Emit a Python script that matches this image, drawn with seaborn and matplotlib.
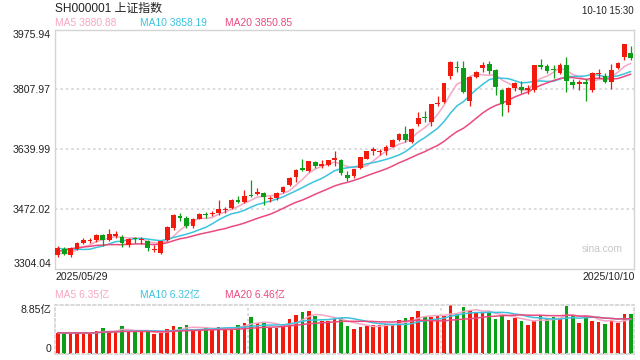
import numpy as np
import pandas as pd
import matplotlib
matplotlib.use("Agg")
from matplotlib import pyplot as plt
import seaborn as sns

# closes before the first visible day (needed for the price MAs)
prior_close = [3286.65, 3279.03, 3316.11, 3342.67, 3352.00, 3342.00, 3369.24, 3374.87,
               3403.95, 3380.82, 3367.46, 3367.58, 3380.48, 3387.57, 3380.19, 3348.37,
               3346.84, 3340.69, 3339.93]

open_ = [3342, 3360, 3343, 3360, 3377, 3382, 3385, 3400, 3385, 3398,
         3395, 3370, 3390, 3385, 3383, 3357, 3350, 3385, 3418, 3452,
         3447, 3424, 3445, 3458, 3457, 3460, 3470, 3476, 3497, 3491,
         3512, 3515, 3517, 3500, 3503, 3520, 3540, 3563, 3587, 3578,
         3603, 3594, 3597, 3609, 3610, 3567, 3566, 3588, 3614, 3634,
         3632, 3634, 3647, 3665, 3684, 3660, 3712, 3731, 3716, 3767,
         3772, 3846, 3872, 3868, 3775, 3843, 3868, 3878, 3862, 3806,
         3763, 3811, 3816, 3806, 3806, 3875, 3874, 3865, 3855, 3876,
         3830, 3822, 3830, 3806, 3850, 3845, 3828, 3868, 3898, 3911]
high = [3368, 3365, 3365, 3380, 3392, 3391, 3403, 3403, 3415, 3410,
        3400, 3392, 3394, 3395, 3386, 3372, 3383, 3424, 3459, 3460,
        3452, 3448, 3460, 3463, 3466, 3497, 3478, 3500, 3510, 3526,
        3554, 3530, 3520, 3510, 3520, 3536, 3562, 3584, 3613, 3606,
        3608, 3610, 3610, 3634, 3612, 3580, 3584, 3618, 3636, 3645,
        3640, 3651, 3668, 3686, 3704, 3699, 3745, 3746, 3767, 3788,
        3826, 3887, 3888, 3887, 3845, 3860, 3884, 3888, 3866, 3810,
        3814, 3828, 3832, 3820, 3876, 3892, 3880, 3877, 3882, 3899,
        3836, 3835, 3836, 3856, 3866, 3855, 3880, 3886, 3936, 3930]
low = [3337, 3343, 3338, 3357, 3374, 3378, 3381, 3368, 3382, 3392,
       3366, 3366, 3376, 3373, 3354, 3352, 3346, 3383, 3414, 3440,
       3420, 3420, 3443, 3448, 3452, 3456, 3462, 3473, 3488, 3489,
       3506, 3512, 3484, 3492, 3498, 3518, 3538, 3547, 3578, 3576,
       3588, 3588, 3593, 3594, 3568, 3550, 3558, 3585, 3612, 3624,
       3625, 3625, 3645, 3662, 3660, 3657, 3706, 3716, 3706, 3760,
       3769, 3838, 3858, 3797, 3760, 3840, 3858, 3850, 3793, 3733,
       3745, 3803, 3797, 3795, 3800, 3866, 3855, 3840, 3850, 3801,
       3812, 3806, 3775, 3802, 3840, 3826, 3810, 3864, 3890, 3889]
close = [3363.45, 3347.49, 3361.98, 3376.20, 3384.10, 3385.36, 3399.77, 3384.82, 3402.32, 3402.66,
         3377.00, 3388.73, 3387.40, 3388.81, 3362.11, 3359.90, 3381.58, 3420.57, 3455.97, 3448.45,
         3424.23, 3444.43, 3457.75, 3454.79, 3461.15, 3472.32, 3473.13, 3497.48, 3493.05, 3509.68,
         3510.18, 3519.65, 3505.00, 3503.78, 3516.83, 3534.48, 3559.79, 3581.86, 3582.30, 3605.73,
         3593.66, 3597.94, 3609.71, 3615.72, 3573.21, 3559.95, 3583.31, 3617.60, 3633.99, 3639.67,
         3635.13, 3647.55, 3665.92, 3683.46, 3666.44, 3696.77, 3728.03, 3727.29, 3766.21, 3771.10,
         3825.76, 3883.56, 3868.38, 3800.35, 3843.60, 3857.93, 3875.53, 3858.13, 3813.56, 3765.88,
         3812.51, 3826.84, 3807.29, 3812.22, 3875.31, 3870.60, 3860.50, 3861.87, 3876.34, 3831.66,
         3820.09, 3828.58, 3821.83, 3853.64, 3853.30, 3828.11, 3862.53, 3882.78, 3933.97, 3897.03]
# volume, in 亿
volume = [3.85, 3.73, 3.85, 3.85, 3.73, 3.73, 4.15, 4.76, 4.15, 4.03,
          5.06, 4.03, 4.03, 4.03, 4.03, 3.61, 3.85, 4.52, 5.06, 4.88,
          5.24, 4.52, 4.33, 4.82, 4.33, 4.82, 4.64, 4.82, 5.24, 5.66,
          6.68, 5.54, 5.66, 4.76, 4.76, 4.94, 6.38, 7.04, 7.65, 7.77,
          6.86, 5.96, 5.96, 6.32, 6.44, 5.06, 4.52, 4.88, 5.12, 5.24,
          5.24, 5.36, 5.24, 6.14, 6.50, 6.68, 7.77, 6.74, 6.68, 6.86,
          6.86, 8.85, 7.28, 8.49, 7.89, 7.46, 7.53, 7.53, 6.32, 7.04,
          6.14, 6.50, 5.96, 5.24, 5.96, 7.04, 6.26, 6.68, 6.38, 8.67,
          6.86, 5.60, 7.04, 5.96, 5.78, 5.42, 5.96, 5.60, 7.22, 7.22]

price_ticks = [3304.04, 3472.02, 3639.99, 3807.97, 3975.94]
title = "SH000001 上证指数"
stamp = "10-10 15:30"
first_date, last_date = "2025/05/29", "2025/10/10"
ma_price_text = ["MA5 3880.88", "MA10 3858.19", "MA20 3850.85"]
ma_vol_text = ["MA5 6.35亿", "MA10 6.32亿", "MA20 6.46亿"]

RED, GREEN = "#f21a0c", "#0b9e16"
MA_COLORS = ["#f7a6c4", "#3cc3df", "#ea4a7e"]
GRID = "#d9d9d9"

df = pd.DataFrame({"open": open_, "high": high, "low": low, "close": close, "volume": volume})
df["idx"] = np.arange(len(df))
all_close = pd.Series(prior_close + close)
for n in (5, 10, 20):
    df[f"ma{n}"] = all_close.rolling(n).mean().iloc[len(prior_close):].values
    df[f"vma{n}"] = df["volume"].rolling(n, min_periods=1).mean()

sns.set_style("white")
plt.rcParams["font.family"] = ["Liberation Sans", "Noto Sans CJK SC", "DejaVu Sans"]

W, H = 640, 360
fig = plt.figure(figsize=(6.4, 3.6), dpi=100)
ax = fig.add_axes([54.5 / W, 1 - 269 / H, 579.5 / W, 239.5 / H])
axv = fig.add_axes([54.5 / W, 1 - 354 / H, 579.5 / W, 49 / H])


def ptext(x, y, s, **kw):
    fig.text(x / W, 1 - y / H, s, **kw)


# candles
up = df["close"] >= df["open"]
cols = np.where(up, RED, GREEN)
ax.vlines(df["idx"], df["low"], df["high"], colors=cols, lw=0.9, zorder=3)
body = np.maximum((df["close"] - df["open"]).abs(), 2.5)
ax.bar(df["idx"], body, bottom=np.minimum(df["open"], df["close"]), width=0.74,
       color=cols, linewidth=0, zorder=4)
for n, c in zip((5, 10, 20), MA_COLORS):
    sns.lineplot(data=df, x="idx", y=f"ma{n}", ax=ax, color=c, lw=1.1, zorder=2)

ax.set_xlim(-0.5, len(df) - 0.5)
ax.set_ylim(price_ticks[0], price_ticks[-1])
ax.set_yticks(price_ticks)
ax.set_yticklabels([f"{v:.2f}" for v in price_ticks])
ax.set_xticks([])
ax.set_xlabel("")
ax.set_ylabel("")
for v in price_ticks[1:-1]:
    ax.axhline(v, color=GRID, lw=1.4, ls=(0, (1.2, 1.6)), zorder=1)
for s in ax.spines.values():
    s.set_color("#d4d4d4")
    s.set_linewidth(1)
ax.tick_params(axis="y", length=0, pad=2.5, labelsize=7.6, labelcolor="#222222")
labs = ax.get_yticklabels()
labs[0].set_va("bottom")
labs[-1].set_va("top")

# volume
axv.bar(df["idx"], df["volume"], width=0.56, color=cols, linewidth=0, zorder=2)
for n, c in zip((5, 10, 20), MA_COLORS):
    sns.lineplot(data=df, x="idx", y=f"vma{n}", ax=axv, color=c, lw=1.1, zorder=3)
axv.set_xlim(-0.5, len(df) - 0.5)
axv.set_ylim(0, max(volume))
axv.set_yticks([0, max(volume)])
axv.set_yticklabels(["0", f"{max(volume):.2f}亿"])
axv.set_xticks([])
axv.set_xlabel("")
axv.set_ylabel("")
for s in axv.spines.values():
    s.set_color(GRID)
    s.set_linewidth(1.4)
    s.set_linestyle((0, (1.2, 1.6)))
third = len(df) / 3
for k in (1, 2):
    axv.axvline(-0.5 + k * third, color=GRID, lw=1.4, ls=(0, (1.2, 1.6)), zorder=1)
axv.tick_params(axis="y", length=0, pad=2.5, labelsize=7.6, labelcolor="#222222")
vl = axv.get_yticklabels()
vl[0].set_va("bottom")
vl[-1].set_va("top")

# texts
ptext(55, 8.5, title, fontsize=8.6, color="#222222", va="center", ha="left")
ptext(634, 10.5, stamp, fontsize=7, color="#222222", va="center", ha="right")
for x, s, c in zip((55, 140, 225), ma_price_text, MA_COLORS):
    ptext(x, 23.5, s, fontsize=7.4, color=c, va="center", ha="left")
for x, s, c in zip((55, 140, 225), ma_vol_text, MA_COLORS):
    ptext(x, 295, s, fontsize=7.4, color=c, va="center", ha="left")
ptext(55, 277.5, first_date, fontsize=7.6, color="#222222", va="center", ha="left")
ptext(635, 277.5, last_date, fontsize=7.6, color="#222222", va="center", ha="right")
ptext(623, 249.5, "sina.com", fontsize=7.4, color="#c8c8c8", va="center", ha="right")

fig.savefig("out.png", dpi=100)
